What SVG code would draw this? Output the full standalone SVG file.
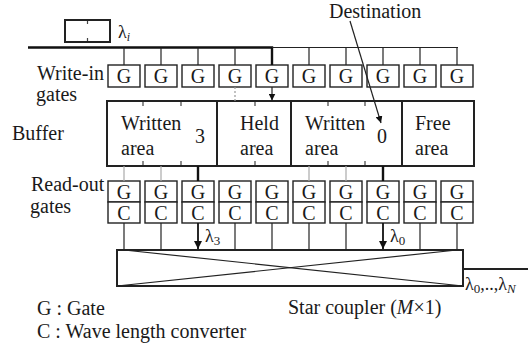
<svg xmlns="http://www.w3.org/2000/svg" width="532" height="349" viewBox="0 0 532 349" font-family="'Liberation Serif', 'Times New Roman', serif">
  <style>
    text { fill: #1a1a1a; }
    .lbl { font-size: 20px; }
    .g { font-size: 20px; text-anchor: middle; }
    .lam { font-size: 18px; }
    .box { fill: #fff; stroke: #222; stroke-width: 1.4; }
    .heavy { fill: none; stroke: #222; stroke-width: 2; }
    .thin { stroke: #222; stroke-width: 1.2; fill: none; }
    .thick { stroke: #111; stroke-width: 2.4; fill: none; }
    .grey { stroke: #aaa; stroke-width: 1.2; fill: none; }
    .tick { stroke: #444; stroke-width: 1.2; }
  </style>
  <defs>
    <marker id="arrow" viewBox="0 0 10 10" refX="10" refY="5" markerWidth="7" markerHeight="7" markerUnits="userSpaceOnUse" orient="auto">
      <path d="M0,0 L10,5 L0,10 z" fill="#111"/>
    </marker>
    <marker id="arrowBig" viewBox="0 0 10 10" refX="10" refY="5" markerWidth="8" markerHeight="8" markerUnits="userSpaceOnUse" orient="auto">
      <path d="M0,0 L10,5 L0,10 z" fill="#111"/>
    </marker>
  </defs>
  <rect width="532" height="349" fill="#fff"/>

  <!-- side labels -->
  <g id="labels">
    <text class="lbl" x="37" y="80">Write-in</text>
    <text class="lbl" x="36" y="101">gates</text>
    <text class="lbl" x="12" y="140">Buffer</text>
    <text class="lbl" x="31" y="191">Read-out</text>
    <text class="lbl" x="30" y="213">gates</text>
    <text class="lbl" x="329" y="18">Destination</text>
    <text class="lbl" x="37" y="315">G : Gate</text>
    <text class="lbl" x="37" y="338">C : Wave length converter</text>
  </g>

  <!-- incoming packet with wavelength λi -->
  <g id="packet">
    <rect x="65" y="20" width="45" height="22" class="heavy"/>
    <line x1="87.5" y1="21" x2="87.5" y2="24" class="tick"/>
    <line x1="87.5" y1="38" x2="87.5" y2="41" class="tick"/>
    <text class="lam" x="118" y="38">λ<tspan font-size="12" font-style="italic" dy="3">i</tspan></text>
  </g>

  <!-- write-in gates -->
  <g id="write-in">
    <rect class="box" x="108" y="65" width="32" height="22"/><text class="g" x="124" y="83">G</text>
    <rect class="box" x="145" y="65" width="32" height="22"/><text class="g" x="161" y="83">G</text>
    <rect class="box" x="182" y="65" width="32" height="22"/><text class="g" x="198" y="83">G</text>
    <rect class="box" x="219" y="65" width="32" height="22"/><text class="g" x="235" y="83">G</text>
    <rect class="box" x="256" y="65" width="32" height="22"/><text class="g" x="272" y="83">G</text>
    <rect class="box" x="293" y="65" width="32" height="22"/><text class="g" x="309" y="83">G</text>
    <rect class="box" x="330" y="65" width="32" height="22"/><text class="g" x="346" y="83">G</text>
    <rect class="box" x="367" y="65" width="32" height="22"/><text class="g" x="383" y="83">G</text>
    <rect class="box" x="404" y="65" width="32" height="22"/><text class="g" x="420" y="83">G</text>
    <rect class="box" x="441" y="65" width="32" height="22"/><text class="g" x="457" y="83">G</text>
  </g>

  <!-- buffer with its four areas -->
  <g id="buffer">
    <rect x="107" y="101" width="367" height="65" class="heavy"/>
    <line x1="217" y1="101" x2="217" y2="166" class="heavy"/>
    <line x1="291" y1="101" x2="291" y2="166" class="heavy"/>
    <line x1="402" y1="101" x2="402" y2="166" class="heavy"/>
    <g class="tick">
      <line x1="143" y1="102" x2="143" y2="106"/><line x1="143" y1="161" x2="143" y2="165"/>
      <line x1="181" y1="102" x2="181" y2="106"/><line x1="181" y1="161" x2="181" y2="165"/>
      <line x1="255" y1="102" x2="255" y2="106"/><line x1="255" y1="161" x2="255" y2="165"/>
      <line x1="328" y1="102" x2="328" y2="106"/><line x1="328" y1="161" x2="328" y2="165"/>
      <line x1="365" y1="102" x2="365" y2="106"/><line x1="365" y1="161" x2="365" y2="165"/>
    </g>
    <text class="lbl" x="121" y="130">Written</text>
    <text class="lbl" x="121" y="155">area</text>
    <text class="lbl" x="195" y="143">3</text>
    <text class="lbl" x="240" y="130">Held</text>
    <text class="lbl" x="240" y="155">area</text>
    <text class="lbl" x="305" y="130">Written</text>
    <text class="lbl" x="305" y="155">area</text>
    <text class="lbl" x="377" y="143">0</text>
    <text class="lbl" x="415" y="130">Free</text>
    <text class="lbl" x="415" y="155">area</text>
  </g>

  <!-- read-out gates: gate over wavelength converter -->
  <g id="read-out">
    <g>
      <rect class="box" x="108" y="181" width="32" height="21"/><rect class="box" x="108" y="202" width="32" height="21"/>
      <rect class="box" x="145" y="181" width="32" height="21"/><rect class="box" x="145" y="202" width="32" height="21"/>
      <rect class="box" x="182" y="181" width="32" height="21"/><rect class="box" x="182" y="202" width="32" height="21"/>
      <rect class="box" x="219" y="181" width="32" height="21"/><rect class="box" x="219" y="202" width="32" height="21"/>
      <rect class="box" x="256" y="181" width="32" height="21"/><rect class="box" x="256" y="202" width="32" height="21"/>
      <rect class="box" x="293" y="181" width="32" height="21"/><rect class="box" x="293" y="202" width="32" height="21"/>
      <rect class="box" x="330" y="181" width="32" height="21"/><rect class="box" x="330" y="202" width="32" height="21"/>
      <rect class="box" x="367" y="181" width="32" height="21"/><rect class="box" x="367" y="202" width="32" height="21"/>
      <rect class="box" x="404" y="181" width="32" height="21"/><rect class="box" x="404" y="202" width="32" height="21"/>
      <rect class="box" x="441" y="181" width="32" height="21"/><rect class="box" x="441" y="202" width="32" height="21"/>
    </g>
    <g class="g">
      <text x="124" y="199">G</text><text x="124" y="220">C</text>
      <text x="161" y="199">G</text><text x="161" y="220">C</text>
      <text x="198" y="199">G</text><text x="198" y="220">C</text>
      <text x="235" y="199">G</text><text x="235" y="220">C</text>
      <text x="272" y="199">G</text><text x="272" y="220">C</text>
      <text x="309" y="199">G</text><text x="309" y="220">C</text>
      <text x="346" y="199">G</text><text x="346" y="220">C</text>
      <text x="383" y="199">G</text><text x="383" y="220">C</text>
      <text x="420" y="199">G</text><text x="420" y="220">C</text>
      <text x="457" y="199">G</text><text x="457" y="220">C</text>
    </g>
  </g>

  <!-- star coupler (M x 1) -->
  <g id="star-coupler">
    <rect x="117" y="250" width="346" height="36" class="heavy"/>
    <line x1="124" y1="250" x2="463" y2="286" class="thin"/>
    <line x1="117" y1="286" x2="457" y2="250" class="thin"/>
    <text class="lbl" x="288" y="314">Star coupler (<tspan font-style="italic">M</tspan>×1)</text>
    <text class="lam" x="465" y="290">λ<tspan font-size="13" dy="3">0</tspan><tspan dy="-3">,..,λ</tspan><tspan font-size="13" font-style="italic" dy="3">N</tspan></text>
  </g>

  <!-- connectors -->
  <g id="connectors">
    <!-- input bus feeding the write-in gates -->
    <path class="thick" d="M28,47.5 H272 V65"/>
    <line class="thin" x1="272" y1="47.5" x2="458" y2="47.5"/>
    <g class="thin">
      <line x1="124" y1="47.5" x2="124" y2="65"/>
      <line x1="161" y1="47.5" x2="161" y2="65"/>
      <line x1="198" y1="47.5" x2="198" y2="65"/>
      <line x1="235" y1="47.5" x2="235" y2="65"/>
      <line x1="309" y1="47.5" x2="309" y2="65"/>
      <line x1="346" y1="47.5" x2="346" y2="65"/>
      <line x1="383" y1="47.5" x2="383" y2="65"/>
      <line x1="420" y1="47.5" x2="420" y2="65"/>
      <line x1="457" y1="47.5" x2="457" y2="65"/>
    </g>
    <!-- write-in gates to buffer -->
    <line x1="235" y1="87" x2="235" y2="101" stroke="#999" stroke-width="1.2" stroke-dasharray="2,2"/>
    <line class="thin" x1="272" y1="87" x2="272" y2="100.5" marker-end="url(#arrow)"/>
    <!-- destination pointer -->
    <line class="thin" x1="350" y1="21" x2="381" y2="123" marker-end="url(#arrow)"/>
    <!-- buffer to read-out gates -->
    <g class="grey">
      <line x1="124" y1="166" x2="124" y2="181"/>
      <line x1="161" y1="166" x2="161" y2="181"/>
      <line x1="309" y1="166" x2="309" y2="181"/>
      <line x1="346" y1="166" x2="346" y2="181"/>
    </g>
    <line class="thick" x1="198" y1="166" x2="198" y2="181"/>
    <line class="thick" x1="383" y1="166" x2="383" y2="181"/>
    <!-- read-out gates to star coupler -->
    <g class="thin">
      <line x1="124" y1="223" x2="124" y2="250"/>
      <line x1="161" y1="223" x2="161" y2="250"/>
      <line x1="235" y1="223" x2="235" y2="250"/>
      <line x1="272" y1="223" x2="272" y2="250"/>
      <line x1="309" y1="223" x2="309" y2="250"/>
      <line x1="346" y1="223" x2="346" y2="250"/>
      <line x1="420" y1="223" x2="420" y2="250"/>
      <line x1="457" y1="223" x2="457" y2="250"/>
    </g>
    <line x1="198" y1="223" x2="198" y2="249" stroke="#111" stroke-width="1.8" marker-end="url(#arrowBig)"/>
    <line x1="383" y1="223" x2="383" y2="249" stroke="#111" stroke-width="1.8" marker-end="url(#arrowBig)"/>
    <text class="lam" x="205" y="242">λ<tspan font-size="13" dy="3">3</tspan></text>
    <text class="lam" x="390" y="242">λ<tspan font-size="13" dy="3">0</tspan></text>
    <!-- coupler output -->
    <line class="heavy" x1="463" y1="269" x2="528" y2="269"/>
  </g>
</svg>
